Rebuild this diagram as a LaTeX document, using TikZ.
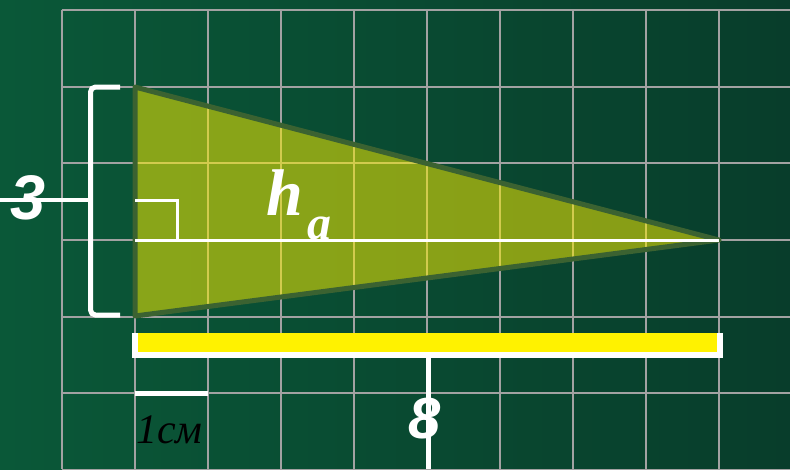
\documentclass[tikz,border=0pt]{standalone}
\usepackage{fontspec}
\setmainfont{Liberation Serif}
\newfontfamily\digitfont{Liberation Sans}
\newfontfamily\labelfont{Liberation Serif}
\begin{document}
\begin{tikzpicture}[x=1pt,y=-1pt,
  gridline/.style={draw=gridgray,line width=2},
  whiteline/.style={draw=white,line width=4},
  bignum/.style={text=white,font=\digitfont\bfseries\itshape\fontsize{63}{63}\selectfont,inner sep=0},
  tri/.style={fill=yellow,fill opacity=0.52,draw=tridark,draw opacity=1,line width=5,line join=round},
]
\definecolor{gridgray}{HTML}{A2A2A2}
\definecolor{tridark}{HTML}{3B6231}
\definecolor{bgleft}{HTML}{0A5838}
\definecolor{bgright}{HTML}{083D2B}
\useasboundingbox (0,0) rectangle (790,469);
\shade[left color=bgleft,right color=bgright] (0,0) rectangle (790,469);
% grid
\foreach \i in {0,...,10} {
  \draw[gridline] ({61.5+73.1*\i},10) -- ({61.5+73.1*\i},469);
}
\foreach \j in {0,...,6} {
  \draw[gridline] (61.5,{10+76.67*\j}) -- (790,{10+76.67*\j});
}
% triangle
\coordinate (A) at (135,87);
\coordinate (B) at (135,316);
\coordinate (C) at (719,240);
\coordinate (H) at (135,240);
\path[tri] (A) -- (B) -- (C) -- cycle;
% altitude and right angle
\draw[draw=white,line width=3] (H) -- (C);
\coordinate (R1) at (135,200);
\coordinate (R2) at (177,200);
\coordinate (R3) at (177,240);
\draw[draw=white,line width=3] (R1) -- (R2) -- (R3);
% bracket
\coordinate (K1) at (120,87);
\coordinate (K2) at (90.5,87);
\coordinate (K3) at (90.5,315);
\coordinate (K4) at (120,315);
\coordinate (K5) at (90.5,200);
\coordinate (K6) at (0,200);
\draw[whiteline,line width=5,rounded corners=5] (K1) -- (K2) -- (K3) -- (K4);
\draw[whiteline] (K5) -- (K6);
\node[bignum,anchor=center] (three) at (28,197.5) {3};
% base bar
\fill[white] (132,333) rectangle (722.5,358);
\fill[yellow] (138,333) rectangle (716.5,352);
\coordinate (P1) at (428,355);
\coordinate (P2) at (428,469);
\draw[whiteline,line width=5] (P1) -- (P2);
\node[bignum,font=\digitfont\bfseries\itshape\fontsize{58}{58}\selectfont,anchor=center] (eight) at (425,418.5) {8};
% scale
\coordinate (S1) at (135,393);
\coordinate (S2) at (208,393);
\draw[whiteline,line width=5] (S1) -- (S2);
\node[text=black,font=\labelfont\itshape\fontsize{42}{42}\selectfont,inner sep=0,anchor=base west] (cm) at (136,443) {1см};
% h_a
\node[text=white,font=\labelfont\bfseries\itshape\fontsize{66}{66}\selectfont,inner sep=0,anchor=base] (h) at (285,215) {h};
\node[text=white,font=\labelfont\bfseries\itshape\fontsize{48}{48}\selectfont,inner sep=0,anchor=base] (a) at (319,239) {a};
\end{tikzpicture}
\end{document}
